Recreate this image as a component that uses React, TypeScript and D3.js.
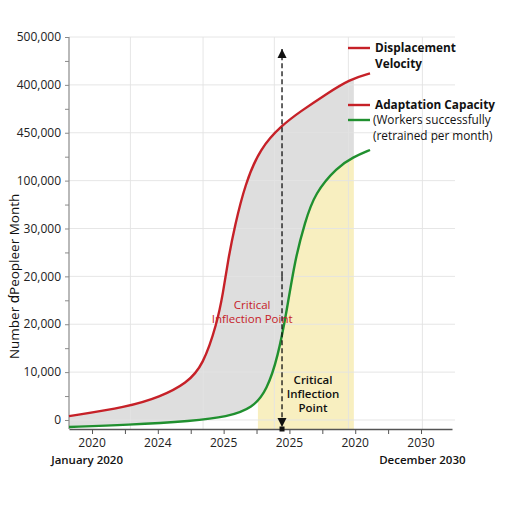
import * as d3 from "d3";
import { useEffect, useRef } from "react";

// months from January 2020 / people per month
const redMonths = [-8.4, 12.8, 24.8, 34.6, 40.5, 45.6, 47.8, 49.6, 52.1, 55.8, 61.3, 69.3, 75.9, 85.7, 94.1, 101.4];
const redValues = [4000, 13500, 24000, 38500, 57000, 101000, 132600, 167000, 203000, 246000, 284000, 308000, 322000, 341000, 356000, 362000];

const greenMonths = [-8.4, 12.8, 36.8, 49.2, 58.7, 63.8, 67.8, 71.1, 74.0, 77.7, 81.3, 89.4, 95.2, 101.4];
const greenValues = [-7300, -5200, -1000, 3100, 12500, 31300, 65800, 114900, 167100, 207000, 237100, 264000, 274500, 282000];

const yTickValues = [0, 50000, 100000, 150000, 200000, 250000, 300000, 350000, 400000];
const yTickLabels = ["0", "10,000", "20,000", "20,000", "30,000", "100,000", "450,000", "400,000", "500,000"];

const xTickMonths = [0, 24, 48, 72, 96, 120];
const xTickLabels = ["2020", "2024", "2025", "2025", "2020", "2030"];
const xGridMonths = [14, 40.5, 66.5, 93.5, 120.5];

const shadeEnd = 95.5;
const yellowStart = 60.5;
const arrowMonth = 69.3;
const arrowTop = 387500;

const RED = "#c62128";
const GREEN = "#20902f";
const FONT = "'Open Sans', 'Noto Sans', sans-serif";

type P = [number, number];

export default function App() {
  const ref = useRef<SVGSVGElement>(null);

  useEffect(() => {
    const svg = d3.select(ref.current);
    svg.selectAll("*").remove();

    const x = d3.scaleLinear().domain([-8.4, 131.3]).range([69, 452]);
    const y = d3.scaleLinear().domain([-9400, 400000]).range([429, 37]);
    const [x0] = x.range();
    const yBottom = y.range()[0];

    const red: P[] = redMonths.map((m, i) => [m, redValues[i]]);
    const green: P[] = greenMonths.map((m, i) => [m, greenValues[i]]);

    const defs = svg.append("defs");
    defs.append("clipPath").attr("id", "shade")
      .append("rect").attr("x", x0).attr("y", 0)
      .attr("width", x(shadeEnd) - x0).attr("height", yBottom);
    defs.append("clipPath").attr("id", "yellow")
      .append("rect").attr("x", x(yellowStart)).attr("y", 0)
      .attr("width", x(shadeEnd) - x(yellowStart)).attr("height", yBottom);
    defs.append("marker").attr("id", "ah").attr("viewBox", "0 0 10 10")
      .attr("refX", 10).attr("refY", 5).attr("markerWidth", 7).attr("markerHeight", 7)
      .attr("orient", "auto").append("path").attr("d", "M0,0 L10,5 L0,10 Z").attr("fill", "#111");

    const curve = d3.curveBasis;
    const area = d3.area<P>().curve(curve)
      .x((d) => x(d[0])).y0(yBottom).y1((d) => y(d[1]));
    const line = d3.line<P>().curve(curve)
      .x((d) => x(d[0])).y((d) => y(d[1]));

    svg.append("path").attr("d", area(red)).attr("fill", "#dedede").attr("clip-path", "url(#shade)");
    svg.append("path").attr("d", area(green)).attr("fill", "#fff").attr("clip-path", "url(#shade)");
    svg.append("path").attr("d", area(green)).attr("fill", "#f8efc0").attr("clip-path", "url(#yellow)");

    // grid
    svg.append("g").selectAll("line").data(yTickValues).join("line")
      .attr("x1", x0).attr("x2", 455).attr("y1", (d) => y(d)).attr("y2", (d) => y(d))
      .attr("stroke", "#e4e4e4").attr("stroke-width", 1).attr("opacity", 0.9);
    svg.append("g").selectAll("line").data(xGridMonths).join("line")
      .attr("x1", (d) => x(d)).attr("x2", (d) => x(d)).attr("y1", y(400000)).attr("y2", yBottom)
      .attr("stroke", "#e4e4e4").attr("stroke-width", 1).attr("opacity", 0.9);

    // y axis
    const yAxis = svg.append("g").attr("transform", `translate(${x0},0)`)
      .call(d3.axisLeft(y).tickValues(d3.range(0, 400001, 25000)).tickSize(4)
        .tickFormat(() => "").tickSizeOuter(0));
    yAxis.select(".domain").attr("stroke", "#8a8a8a").attr("stroke-width", 1.2)
      .attr("d", `M0,${y(400000)}V${yBottom}`);
    yAxis.selectAll(".tick line").attr("stroke", "#8a8a8a");
    svg.append("g").selectAll("text").data(yTickValues).join("text")
      .attr("x", x0 - 8).attr("y", (d) => y(d)).attr("dy", "0.35em")
      .attr("text-anchor", "end").attr("font-family", FONT).attr("font-size", 12).attr("fill", "#222")
      .text((d, i) => yTickLabels[i]);

    // x axis
    const xAxis = svg.append("g").attr("transform", `translate(0,${yBottom})`)
      .call(d3.axisBottom(x).tickValues(d3.range(0, 121, 12)).tickSize(5)
        .tickFormat(() => "").tickSizeOuter(0));
    xAxis.select(".domain").attr("stroke", "#555").attr("stroke-width", 1.3);
    xAxis.selectAll(".tick line").attr("stroke", "#555");
    svg.append("g").selectAll("text").data(xTickMonths).join("text")
      .attr("x", (d) => x(d)).attr("y", 447).attr("text-anchor", "middle")
      .attr("font-family", FONT).attr("font-size", 12).attr("fill", "#222")
      .text((d, i) => xTickLabels[i]);
    svg.append("text").attr("x", x(-1.8)).attr("y", 464).attr("text-anchor", "middle")
      .attr("font-family", FONT).attr("font-size", 11.5).attr("font-weight", 600).attr("fill", "#111")
      .text("January 2020");
    svg.append("text").attr("x", x(120.5)).attr("y", 464).attr("text-anchor", "middle")
      .attr("font-family", FONT).attr("font-size", 11.5).attr("font-weight", 600).attr("fill", "#111")
      .text("December 2030");

    svg.append("text").attr("transform", `translate(19,${y(150000)}) rotate(-90)`)
      .attr("text-anchor", "middle").attr("font-family", FONT).attr("font-size", 13.5).attr("fill", "#111")
      .text("Number ɗPeopleer Month");

    // series
    svg.append("path").attr("d", line(red)).attr("fill", "none").attr("stroke", RED).attr("stroke-width", 2.4);
    svg.append("path").attr("d", line(green)).attr("fill", "none").attr("stroke", GREEN).attr("stroke-width", 2.4);

    // inflection arrow
    const ax = x(arrowMonth);
    const mid = y(150000);
    svg.append("line").attr("x1", ax).attr("x2", ax).attr("y1", mid).attr("y2", y(arrowTop))
      .attr("stroke", "#111").attr("stroke-width", 1.3).attr("stroke-dasharray", "5,3")
      .attr("marker-end", "url(#ah)");
    svg.append("line").attr("x1", ax).attr("x2", ax).attr("y1", mid).attr("y2", yBottom - 2)
      .attr("stroke", "#111").attr("stroke-width", 1.3).attr("stroke-dasharray", "5,3")
      .attr("marker-end", "url(#ah)");
    svg.append("rect").attr("x", ax - 2.5).attr("y", yBottom - 2.5).attr("width", 5).attr("height", 5).attr("fill", "#111");

    const note = (mx: number, vy: number, lines: string[], color: string, weight: number) => {
      const t = svg.append("text").attr("text-anchor", "middle").attr("font-family", FONT)
        .attr("font-size", 11.5).attr("font-weight", weight).attr("fill", color);
      lines.forEach((s, i) => {
        t.append("tspan").attr("x", x(mx)).attr("y", y(vy) + i * 14).attr("dy", "0.35em").text(s);
      });
    };
    note(58.4, 120100, ["Critical", "Inflection Point"], RED, 400);
    note(80.6, 41800, ["Critical", "Inflection", "Point"], "#111", 600);

    // legend
    const leg = svg.append("g").attr("font-family", FONT).attr("font-size", 11.8).attr("fill", "#111");
    const seg = (yy: number, c: string) =>
      leg.append("line").attr("x1", 348).attr("x2", 370).attr("y1", yy).attr("y2", yy)
        .attr("stroke", c).attr("stroke-width", 2.4);
    const txt = (yy: number, s: string, w: number, xx = 375) =>
      leg.append("text").attr("x", xx).attr("y", yy).attr("dy", "0.35em").attr("font-weight", w).text(s);
    seg(48, RED);
    txt(48, "Displacement", 700);
    txt(64, "Velocity", 700);
    seg(105, RED);
    txt(105, "Adaptation Capacity", 700);
    seg(120, GREEN);
    txt(120, "(Workers successfully", 400, 373);
    txt(136, "(retrained per month)", 400, 373);
  }, []);

  return (
    <svg ref={ref} width={512} height={512}
      style={{ position: "absolute", left: 0, top: 0, background: "#fff" }} />
  );
}
